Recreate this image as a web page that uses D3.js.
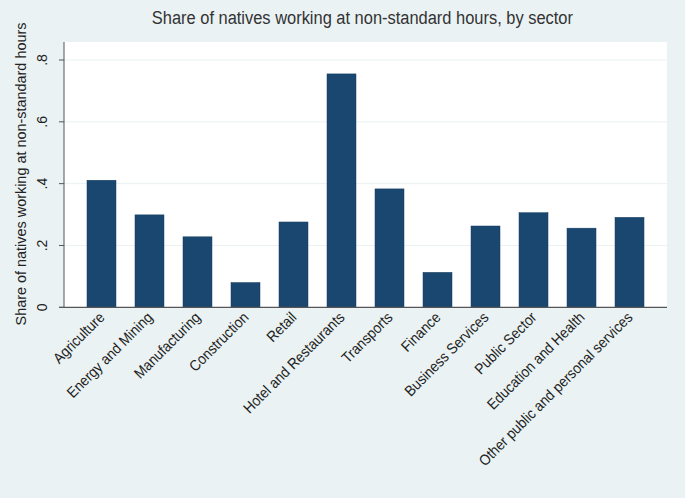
<!DOCTYPE html>
<html><head><meta charset="utf-8">
<script src="https://cdn.jsdelivr.net/npm/d3@7"></script>
<style>html,body{margin:0;padding:0;background:#eaf2f3;}svg{display:block;}</style>
</head><body><svg id="c" width="685" height="498"></svg>
<script>
const categories = ["Agriculture","Energy and Mining","Manufacturing","Construction","Retail","Hotel and Restaurants","Transports","Finance","Business Services","Public Sector","Education and Health","Other public and personal services"];
const values = [0.411,0.299,0.228,0.080,0.276,0.755,0.383,0.113,0.263,0.306,0.256,0.291];
const yTicks = [0,0.2,0.4,0.6,0.8];
const yTickLabels = ["0",".2",".4",".6",".8"];
const title = "Share of natives working at non-standard hours, by sector";
const yTitle = "Share of natives working at non-standard hours";

const svg = d3.select("#c");
const L=64,R=667,T=42,B=307.3;
const K=0.91;
function condense(sel,k){sel.each(function(){const w=this.getComputedTextLength();d3.select(this).attr("textLength",w*k).attr("lengthAdjust","spacingAndGlyphs");});}
svg.append("rect").attr("width",685).attr("height",498).attr("fill","#eaf2f3");
svg.append("rect").attr("x",L).attr("y",T).attr("width",R-L).attr("height",B-T).attr("fill","#ffffff");
const x = d3.scaleBand().domain(categories).range([L,R]).paddingInner(0.396).paddingOuter(0.479);
const y = d3.scaleLinear().domain([0,0.8]).range([B,60]);
const font = "'Liberation Sans', Arial, sans-serif";
// grid
svg.append("g").selectAll("line").data(yTicks.slice(1)).join("line")
  .attr("x1",L).attr("x2",R).attr("y1",d=>y(d)).attr("y2",d=>y(d))
  .attr("stroke","#eaf2f3").attr("stroke-width",1);
// bars
svg.append("g").selectAll("rect").data(values).join("rect")
  .attr("x",(d,i)=>x(categories[i])).attr("width",x.bandwidth())
  .attr("y",d=>y(d)).attr("height",d=>B-y(d))
  .attr("fill","#1a476f").attr("stroke","#163d5f").attr("stroke-width",0.5);
// y axis
const ya = d3.axisLeft(y).tickValues(yTicks).tickFormat((d,i)=>yTickLabels[i]).tickSize(5);
const gy = svg.append("g").attr("transform",`translate(${L},0)`).call(ya);
gy.select(".domain").attr("d",`M-5,${B}H0V${T}`).attr("stroke","#555");
gy.selectAll(".tick").attr("transform",null);
gy.selectAll(".tick line").attr("stroke","#555").attr("y1",d=>y(d)).attr("y2",d=>y(d)).attr("x2",-5);
gy.selectAll(".tick text").each(function(d){
    d3.select(this).attr("x",null).attr("dy",null).attr("y",0).attr("text-anchor","middle")
      .attr("transform",`translate(-22,${y(d)}) rotate(-90)`)
      .attr("dominant-baseline","central").attr("font-family",font).attr("font-size",14).attr("fill","#222");
  });
// x axis
svg.append("line").attr("x1",L).attr("x2",R).attr("y1",B).attr("y2",B).attr("stroke","#555").attr("stroke-width",1.2);
svg.append("g").selectAll("text").data(categories).join("text")
  .attr("transform",d=>`translate(${x(d)+x.bandwidth()/2+4},${B+11}) rotate(-45)`)
  .attr("text-anchor","end")
  .attr("font-family",font).attr("font-size",15).attr("fill","#222").text(d=>d)
  .call(condense,K);
// titles
svg.append("text").attr("x",362.4).attr("y",24).attr("text-anchor","middle")
  .attr("font-family",font).attr("font-size",18).attr("fill","#333").text(title).call(condense,0.913);
svg.append("text").attr("transform",`translate(26,174) rotate(-90)`).attr("text-anchor","middle")
  .attr("font-family",font).attr("font-size",15.5).attr("fill","#222").text(yTitle).call(condense,0.93);
</script></body></html>
